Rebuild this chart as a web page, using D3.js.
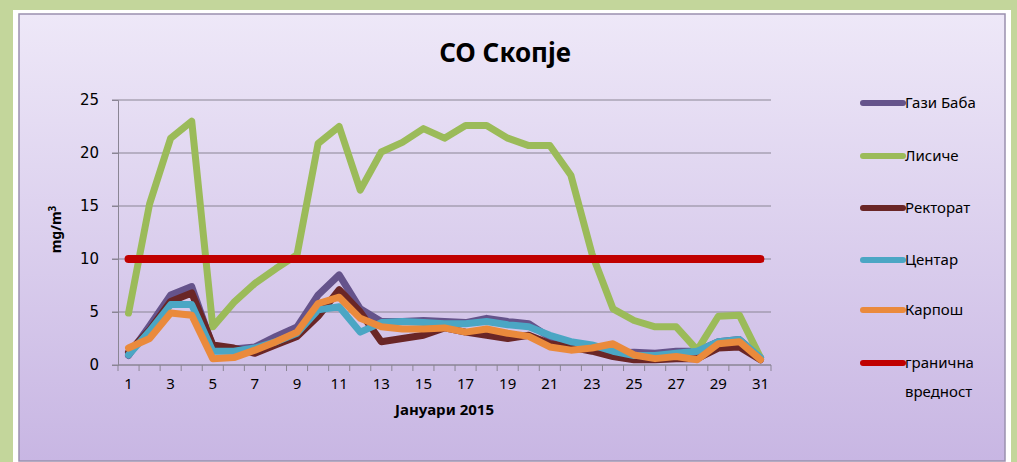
<!DOCTYPE html>
<html>
<head>
<meta charset="utf-8">
<script src="https://cdn.jsdelivr.net/npm/d3@7"></script>
<style>
  body { margin: 0; background: #c3d69b; }
  svg { display: block; }
  text { font-family: "Comic Sans MS", "Noto Sans", "DejaVu Sans", sans-serif; fill: #000; }
</style>
</head>
<body>
<div id="mainDiv"></div>
<script>
'use strict';

// days of January 2015
var days = d3.range(1, 32);
var yTicks = [0, 5, 10, 15, 20, 25];

var gaziBaba = [0.9, 3.7, 6.6, 7.4, 1.7, 1.5, 1.7, 2.7, 3.6, 6.6, 8.5, 5.3, 4.1, 4.1, 4.2, 4.1, 4.0, 4.4, 4.1, 3.9, 2.6, 2.0, 1.5, 1.1, 1.2, 1.1, 1.3, 1.3, 2.2, 2.4, 0.7];
var lisice = [4.9, 15.2, 21.4, 23.0, 3.6, 5.9, 7.7, 9.1, 10.4, 20.9, 22.5, 16.5, 20.1, 21.0, 22.3, 21.4, 22.6, 22.6, 21.4, 20.7, 20.7, 17.9, 10.5, 5.3, 4.2, 3.6, 3.6, 1.4, 4.6, 4.7, 0.7];
var rektorat = [1.2, 3.3, 6.0, 6.8, 1.9, 1.6, 1.1, 1.9, 2.7, 4.6, 7.1, 5.0, 2.2, 2.5, 2.8, 3.5, 3.1, 2.8, 2.5, 2.8, 2.0, 1.7, 1.3, 0.8, 0.5, 0.5, 0.6, 0.6, 1.6, 1.7, 0.5];
var centar = [0.95, 3.2, 5.7, 5.7, 1.3, 1.3, 1.6, 2.2, 3.0, 5.2, 5.5, 3.1, 4.0, 4.1, 4.0, 3.9, 3.9, 4.1, 3.8, 3.6, 2.8, 2.2, 1.9, 1.3, 0.9, 0.9, 1.1, 1.3, 2.2, 2.4, 0.7];
var karpos = [1.6, 2.5, 4.9, 4.7, 0.6, 0.7, 1.4, 2.2, 3.1, 5.8, 6.4, 4.4, 3.6, 3.4, 3.4, 3.5, 3.1, 3.4, 3.0, 2.7, 1.7, 1.4, 1.6, 2.0, 0.95, 0.6, 0.8, 0.5, 2.0, 2.2, 0.5];
var limit = days.map(function() { return 10; });

var seriesNames = ['Гази Баба', 'Лисиче', 'Ректорат', 'Центар', 'Карпош', 'гранична вредност'];
var seriesColors = ['#65538b', '#9bbb59', '#6a2626', '#4ba6c4', '#ea8a3c', '#c00000'];

var myApp = {};
myApp.W = 1017;
myApp.H = 462;
myApp.plot = {left: 118, right: 771, top: 100, bottom: 365};

myApp.build = function()
{
    var svg = d3.select('#mainDiv').append('svg')
        .attr('width', myApp.W)
        .attr('height', myApp.H);

    var grad = svg.append('defs').append('linearGradient')
        .attr('id', 'bg').attr('x1', 0).attr('y1', 0).attr('x2', 0).attr('y2', 1);
    grad.append('stop').attr('offset', '0%').attr('stop-color', '#eee8f8');
    grad.append('stop').attr('offset', '100%').attr('stop-color', '#c8b6e3');

    // frame
    svg.append('rect').attr('x', 13).attr('y', 10).attr('width', 998).attr('height', 460).attr('fill', '#fff');
    svg.append('rect').attr('x', 19).attr('y', 14).attr('width', 986).attr('height', 447)
        .attr('fill', 'url(#bg)').attr('stroke', '#9a90ae').attr('stroke-width', 1.5);

    var p = myApp.plot;
    var x = d3.scaleBand().domain(days).range([p.left, p.right]);
    var y = d3.scaleLinear().domain([0, 25]).range([p.bottom, p.top]);

    // grid
    svg.append('g').selectAll('line').data(yTicks).enter().append('line')
        .attr('x1', p.left - 6).attr('x2', p.right)
        .attr('y1', function(d) { return y(d); }).attr('y2', function(d) { return y(d); })
        .attr('stroke', '#8a8594').attr('stroke-width', 1);

    // y axis
    var yAxis = svg.append('g').attr('transform', 'translate(' + p.left + ',0)')
        .call(d3.axisLeft(y).tickValues(yTicks).tickSize(6).tickPadding(13));
    yAxis.select('.domain').attr('stroke', '#8a8594');
    yAxis.selectAll('.tick line').attr('stroke', '#8a8594');
    yAxis.selectAll('text').style('font-family', '"DejaVu Sans", sans-serif').style('font-size', '15px').attr('fill', '#222');

    // x axis, ticks between categories
    var xg = svg.append('g').attr('transform', 'translate(0,' + p.bottom + ')');
    xg.append('line').attr('x1', p.left).attr('x2', p.right).attr('stroke', '#8a8594');
    xg.selectAll('line.tk').data(days.concat([32])).enter().append('line')
        .attr('class', 'tk')
        .attr('x1', function(d) { return d <= 31 ? x(d) : p.right; })
        .attr('x2', function(d) { return d <= 31 ? x(d) : p.right; })
        .attr('y1', 0).attr('y2', 6).attr('stroke', '#8a8594');
    xg.selectAll('text').data(days.filter(function(d) { return d % 2 === 1; })).enter().append('text')
        .attr('x', function(d) { return x(d) + x.bandwidth() / 2; })
        .attr('y', 24)
        .attr('text-anchor', 'middle')
        .style('font-size', '15px')
        .text(function(d) { return d; });

    // series
    var line = d3.line()
        .x(function(d, i) { return x(days[i]) + x.bandwidth() / 2; })
        .y(function(d) { return y(d); });
    var all = [gaziBaba, lisice, rektorat, centar, karpos, limit];
    svg.append('g').selectAll('path').data(all).enter().append('path')
        .attr('d', line)
        .attr('fill', 'none')
        .attr('stroke', function(d, i) { return seriesColors[i]; })
        .attr('stroke-width', function(d, i) { return i === 5 ? 8 : 7; })
        .attr('stroke-linejoin', 'round')
        .attr('stroke-linecap', 'round');

    // titles
    svg.append('text').attr('x', 505).attr('y', 62).attr('text-anchor', 'middle')
        .style('font-size', '26px').style('font-weight', 'bold').text('CO Скопје');
    svg.append('text').attr('x', (p.left + p.right) / 2).attr('y', 415).attr('text-anchor', 'middle')
        .style('font-size', '15px').style('font-weight', 'bold').text('Јануари 2015');
    var yt = svg.append('text')
        .attr('transform', 'translate(61,' + ((p.top + p.bottom) / 2 - 3) + ') rotate(-90)')
        .attr('text-anchor', 'middle')
        .style('font-size', '14px').style('font-weight', 'bold');
    yt.append('tspan').text('mg/m');
    yt.append('tspan').attr('dy', -5).style('font-size', '10px').text('3');

    // legend
    var rowsY = [103, 156, 208, 260, 310, 363];
    var lg = svg.append('g').selectAll('g').data(seriesNames).enter().append('g')
        .attr('transform', function(d, i) { return 'translate(863,' + rowsY[i] + ')'; });
    lg.append('line').attr('x1', 0).attr('x2', 40)
        .attr('stroke', function(d, i) { return seriesColors[i]; })
        .attr('stroke-width', 6).attr('stroke-linecap', 'round');
    lg.append('text').attr('x', 42).attr('y', 5).style('font-size', '15px')
        .each(function(d) {
            var parts = d.split(' ');
            var t = d3.select(this);
            if (d === 'гранична вредност') {
                t.append('tspan').attr('x', 42).text(parts[0]);
                t.append('tspan').attr('x', 42).attr('dy', 29).text(parts[1]);
            } else {
                t.text(d);
            }
        });
}

window.onload = myApp.build;
</script>
</body>
</html>
